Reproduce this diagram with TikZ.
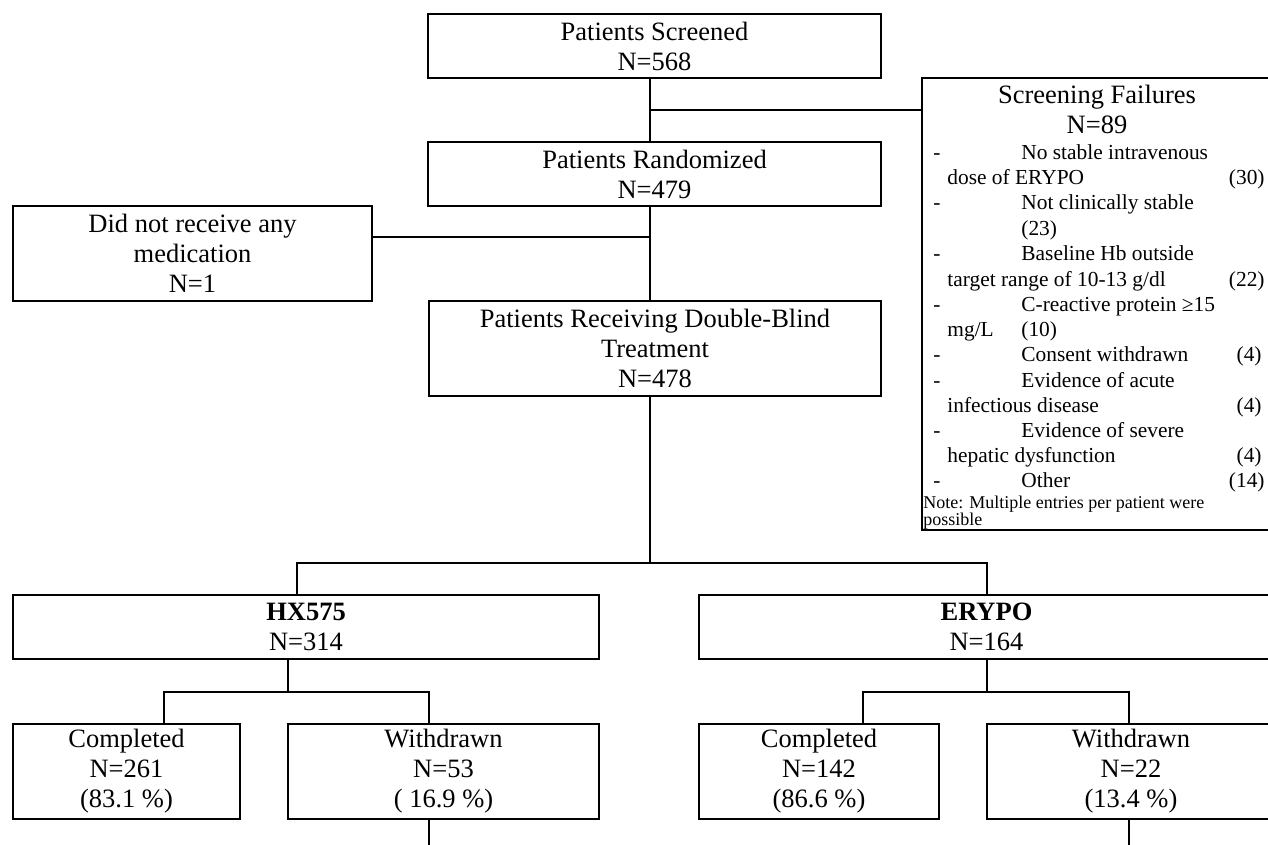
\documentclass[tikz,border=0pt]{standalone}
\usepackage{fontspec}
\setmainfont{Liberation Serif}
\newcommand{\mainsize}{\fontsize{13.25}{15}\selectfont}
\newcommand{\itemsize}{\fontsize{10.7}{12.6}\selectfont}
\newcommand{\notesize}{\fontsize{9}{9}\selectfont}
\tikzset{
  flowbox/.style={draw, line width=1.2pt, inner sep=0pt, align=center, font=\mainsize},
  link/.style={line width=1.2pt},
  sfline/.style={inner sep=0pt, anchor=base west, font=\itemsize},
  sfcount/.style={inner sep=0pt, anchor=base east, font=\itemsize},
}
\begin{document}
\begin{tikzpicture}[x=0.5pt, y=-0.5pt]
  \path[use as bounding box, fill=white] (0,0) rectangle (1268,845);
  \clip (0,0) rectangle (1268,845);

  % main column
  \node[flowbox, minimum width=226.5pt, minimum height=32pt] (screened) at (654.5,46) {Patients Screened\\N=568};
  \node[flowbox, minimum width=226.5pt, minimum height=32pt] (randomized) at (654.5,174) {Patients Randomized\\N=479};
  \node[flowbox, minimum width=179.5pt, minimum height=47.5pt] (norx) at (192.5,253.5) {Did not receive any\\medication\\N=1};
  \node[flowbox, minimum width=226pt, minimum height=47.5pt] (doubleblind) at (655,348.5) {Patients Receiving Double-Blind\\Treatment\\N=478};

  % screening failures
  \node[flowbox, anchor=north west, minimum width=176.5pt, minimum height=226pt] (failures) at (921,77) {};
  \node[inner sep=0pt, anchor=base, font=\mainsize] (sftitle) at (1097,104) {Screening Failures};
  \node[inner sep=0pt, anchor=base, font=\mainsize] (sfn) at (1097,134) {N=89};
  \foreach \y [count=\i] in {160,210,261,311,361,387,437,487}
    \node[sfline] (dash\i) at (933,\y) {-};
  \node[sfline] (sfa) at (1021,160) {No stable intravenous};
  \node[sfline] (sfb) at (947,185) {dose of ERYPO};
  \node[sfcount] (sfbn) at (1265,185) {(30)};
  \node[sfline] (sfc) at (1021,210) {Not clinically stable};
  \node[sfline] (sfcn) at (1021,235) {(23)};
  \node[sfline] (sfd) at (1021,261) {Baseline Hb outside};
  \node[sfline] (sfe) at (947,286) {target range of 10-13 g/dl};
  \node[sfcount] (sfen) at (1265,286) {(22)};
  \node[sfline] (sff) at (1021,311) {C-reactive protein ≥15};
  \node[sfline] (sfg) at (947,336) {mg/L};
  \node[sfline] (sfgn) at (1021,336) {(10)};
  \node[sfline] (sfh) at (1021,361) {Consent withdrawn};
  \node[sfcount] (sfhn) at (1262,361) {(4)};
  \node[sfline] (sfi) at (1021,387) {Evidence of acute};
  \node[sfline] (sfj) at (947,412) {infectious disease};
  \node[sfcount] (sfjn) at (1262,412) {(4)};
  \node[sfline] (sfk) at (1021,437) {Evidence of severe};
  \node[sfline] (sfl) at (947,462) {hepatic dysfunction};
  \node[sfcount] (sfln) at (1262,462) {(4)};
  \node[sfline] (sfm) at (1021,487) {Other};
  \node[sfcount] (sfmn) at (1265,487) {(14)};
  \node[sfline, font=\notesize] (sfnote) at (923,508) {Note: Multiple entries per patient were};
  \node[sfline, font=\notesize] (sfnote2) at (923,525) {possible};

  % treatment arms
  \node[flowbox, minimum width=293pt, minimum height=32pt] (hx) at (306,627) {\textbf{HX575}\\N=314};
  \node[flowbox, minimum width=287.5pt, minimum height=32pt] (erypo) at (986.5,627) {\textbf{ERYPO}\\N=164};
  \node[flowbox, minimum width=113.5pt, minimum height=47.5pt] (hxc) at (126.5,771.5) {Completed\\N=261\\(83.1 \%)};
  \node[flowbox, minimum width=155.5pt, minimum height=47.5pt] (hxw) at (443.5,771.5) {Withdrawn\\N=53\\( 16.9 \%)};
  \node[flowbox, minimum width=120pt, minimum height=47.5pt] (eryc) at (819,771.5) {Completed\\N=142\\(86.6 \%)};
  \node[flowbox, minimum width=144pt, minimum height=47.5pt] (eryw) at (1131,771.5) {Withdrawn\\N=22\\(13.4 \%)};

  % connectors
  \coordinate (trunk) at (650,0);
  \coordinate (sfjoin) at (650,110);
  \coordinate (nojoin) at (650,237);
  \coordinate (hxleg) at (297,563);
  \coordinate (eryleg) at (987,563);
  \coordinate (hxfork) at (288,692);
  \coordinate (hxcl) at (164,692);
  \coordinate (hxwl) at (429,692);
  \coordinate (hxtail) at (429,845);
  \coordinate (eryfork) at (987,692);
  \coordinate (erycl) at (863,692);
  \coordinate (erywl) at (1129,692);
  \coordinate (erytail) at (1129,845);

  \draw[link] (screened.south -| trunk) -- (randomized.north -| trunk);
  \draw[link] (sfjoin) -- (sfjoin -| failures.west);
  \draw[link] (randomized.south -| trunk) -- (doubleblind.north -| trunk);
  \draw[link] (norx.east |- nojoin) -- (nojoin);
  \draw[link] (doubleblind.south -| trunk) -- (trunk |- hxleg);
  \draw[link] (hx.north -| hxleg) -- (hxleg) -- (eryleg) -- (erypo.north -| eryleg);
  \draw[link] (hx.south -| hxfork) -- (hxfork);
  \draw[link] (hxc.north -| hxcl) -- (hxcl) -- (hxwl) -- (hxw.north -| hxwl);
  \draw[link] (hxw.south -| hxtail) -- (hxtail);
  \draw[link] (erypo.south -| eryfork) -- (eryfork);
  \draw[link] (eryc.north -| erycl) -- (erycl) -- (erywl) -- (eryw.north -| erywl);
  \draw[link] (eryw.south -| erytail) -- (erytail);
\end{tikzpicture}
\end{document}
